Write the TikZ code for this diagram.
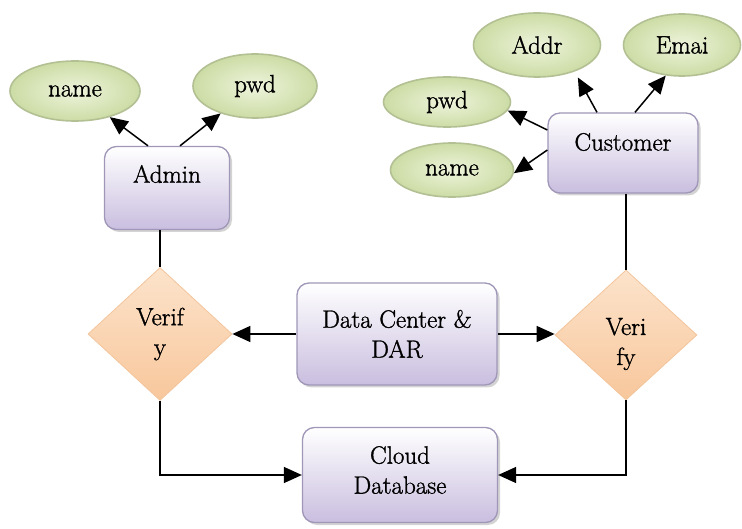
\documentclass[tikz,border=0pt]{standalone}
\usepackage{fontspec}
\setmainfont{Latin Modern Roman}[FakeBold=1.2]
\usetikzlibrary{shapes.geometric,arrows.meta,shadows}
\definecolor{attrB}{HTML}{B3C093}
\definecolor{attrIn}{HTML}{EEF4DC}
\definecolor{attrOut}{HTML}{CCDCA5}
\definecolor{boxB}{HTML}{A097B8}
\definecolor{boxBot}{HTML}{C9BEDF}
\definecolor{dT}{HTML}{FCE3CB}
\definecolor{dBot}{HTML}{F8C79C}
\definecolor{dB}{HTML}{F3C59C}
\begin{document}
\begin{tikzpicture}[x=1pt,y=-1pt,
  font=\fontsize{25}{30}\selectfont,
  attr/.style={ellipse, draw=attrB, line width=1.6pt, inner color=attrIn, outer color=attrOut, inner sep=0pt},
  entbox/.style={rectangle, rounded corners=12pt, draw=boxB, line width=1.3pt, top color=white, bottom color=boxBot,
    drop shadow={opacity=0.35, shadow xshift=2.5pt, shadow yshift=-2.5pt}, align=center, inner sep=0pt},
  decide/.style={diamond, draw=dB, line width=0.8pt, top color=dT, bottom color=dBot, inner sep=0pt, align=center},
  arr/.style={-{Triangle[length=18pt,width=16pt]}, line width=1.5pt},
  conn/.style={line width=1.2pt}]
\useasboundingbox (0,0) rectangle (742,529);

% Admin side
\node[attr, minimum width=130pt, minimum height=60pt] (aname) at (75,91) {name};
\node[attr, minimum width=124pt, minimum height=64pt] (apwd) at (255,86) {pwd};
\node[entbox, minimum width=125pt, minimum height=83pt,
  label={[yshift=14pt]center:Admin}] (admin) at (167,188) {};

% Customer side
\node[attr, minimum width=127pt, minimum height=64pt] (caddr) at (537,45) {Addr};
\node[attr, minimum width=117pt, minimum height=62pt] (cemai) at (682,45) {Emai};
\node[attr, minimum width=127pt, minimum height=50pt] (cpwd) at (447,102) {pwd};
\node[attr, minimum width=123pt, minimum height=54pt] (cname) at (452,170) {name};
\node[entbox, minimum width=150pt, minimum height=80pt,
  label={[yshift=11pt]center:Customer}] (cust) at (623,153) {};

% middle row
\node[decide, minimum width=144pt, minimum height=133pt] (v1) at (160,334) {Verif\\y};
\node[entbox, minimum width=200pt, minimum height=102pt] (dc) at (397,334) {Data Center \&\\DAR};
\node[decide, minimum width=142pt, minimum height=130pt,
  label={[yshift=-9pt,align=center]center:Veri\\fy}] (v2) at (626,335) {};

% bottom
\node[entbox, minimum width=195pt, minimum height=95pt,
  label={[yshift=5pt,align=center]center:Cloud\\Database}] (cloud) at (400,475) {};

% connectors
\draw[arr] ([xshift=-19pt]admin.north) -- (aname);
\draw[arr] ([xshift=13pt]admin.north) -- (apwd);
\draw[arr] ([xshift=-26pt]cust.north) -- ([shift={(3pt,-6pt)}]caddr.-35);
\draw[arr] ([xshift=12pt]cust.north) -- (cemai.-118);
\draw[arr] ([yshift=23pt]cust.west) -- (cpwd.-8);
\draw[arr] ([yshift=3pt]cust.west) -- (cname.-3);

\draw[conn] (v1.north |- admin.south) -- (v1.north);
\draw[conn] (v2.north |- cust.south) -- (v2.north);

\draw[arr] (dc.west) -- (dc.west -| v1.east);
\draw[arr] (dc.east) -- (dc.east -| v2.west);

\draw[arr] (v1.south) |- (cloud.west);
\draw[arr] (v2.south) |- (cloud.east);
\end{tikzpicture}
\end{document}
